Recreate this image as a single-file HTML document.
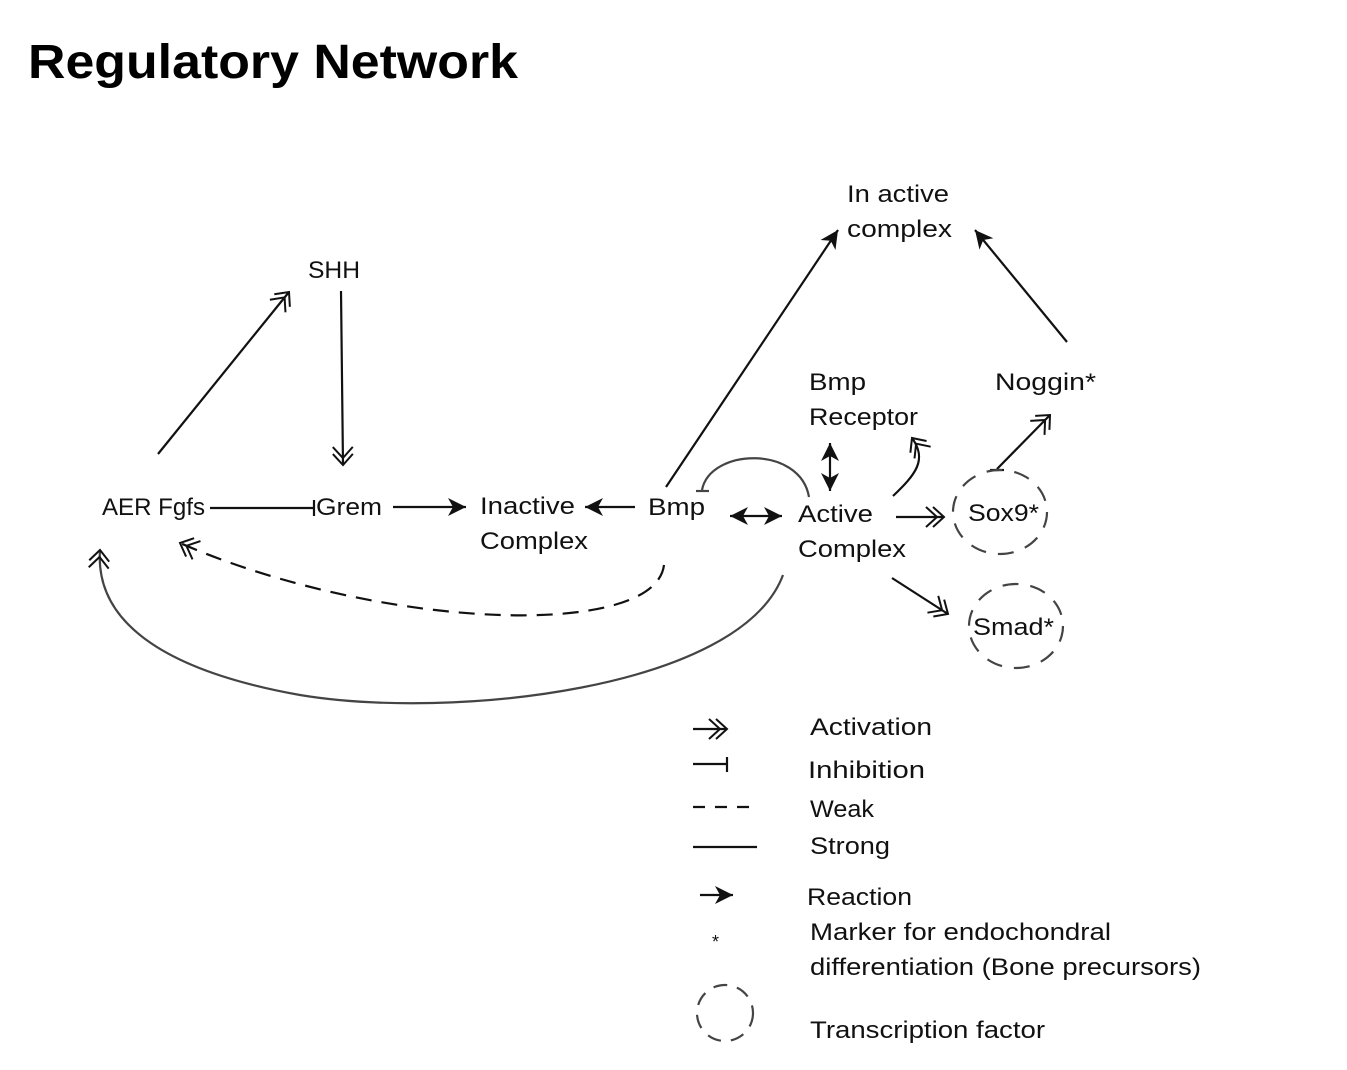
<!DOCTYPE html>
<html><head><meta charset="utf-8"><style>
html,body{margin:0;padding:0;background:#fff;width:1347px;height:1070px;overflow:hidden}
svg text{font-family:"Liberation Sans",sans-serif;font-size:24px;fill:#111}
</style></head><body>
<svg width="1347" height="1070" viewBox="0 0 1347 1070" xmlns="http://www.w3.org/2000/svg">
<defs>
<marker id="act" markerUnits="userSpaceOnUse" viewBox="-14 -12 28 24" refX="10" refY="0" markerWidth="28" markerHeight="24" orient="auto">
<path d="M-1,-10 L10,0 L-1,10 M-8,-10 L3,0 L-8,10" fill="none" stroke="#111" stroke-width="2"/>
</marker>
<marker id="rx" markerUnits="userSpaceOnUse" viewBox="-2 -10 24 20" refX="18" refY="0" markerWidth="24" markerHeight="20" orient="auto">
<path d="M0,-9 L18,0 L0,9 L5,0 Z" fill="#111"/>
</marker>
<marker id="rxs" markerUnits="userSpaceOnUse" viewBox="-2 -10 24 20" refX="0" refY="0" markerWidth="24" markerHeight="20" orient="auto">
<path d="M18,-9 L0,0 L18,9 L13,0 Z" fill="#111"/>
</marker>
</defs>
<text x="28" y="78" textLength="490" lengthAdjust="spacingAndGlyphs" style="font-size:48px;font-weight:bold;fill:#000">Regulatory  Network</text>

<g fill="none" stroke="#111" stroke-width="2.2">
<line x1="158" y1="454" x2="289" y2="292" marker-end="url(#act)"/>
<line x1="341" y1="291" x2="343" y2="465" marker-end="url(#act)"/>
<line x1="210" y1="508" x2="314" y2="508"/><line x1="314" y1="500" x2="314" y2="516"/>
<line x1="393" y1="507" x2="466" y2="507" marker-end="url(#rx)"/>
<line x1="635" y1="507" x2="585" y2="507" marker-end="url(#rx)"/>
<line x1="666" y1="487" x2="838" y2="230" marker-end="url(#rx)"/>
<line x1="1067" y1="342" x2="975" y2="230" marker-end="url(#rx)"/>
<line x1="730" y1="516" x2="782" y2="516" marker-start="url(#rxs)" marker-end="url(#rx)"/>
<line x1="830" y1="443" x2="830" y2="491" marker-start="url(#rxs)" marker-end="url(#rx)"/>
<path d="M809,497 C800,445 710,448 702,490" stroke="#444"/><line x1="696" y1="491" x2="709" y2="491" stroke="#444"/>
<path d="M893,496 C915,475 928,460 912,438" marker-end="url(#act)"/>
<line x1="896" y1="517" x2="944" y2="517" marker-end="url(#act)"/>
<line x1="892" y1="578" x2="948" y2="614" marker-end="url(#act)"/>
<line x1="997" y1="469" x2="1050" y2="415" marker-end="url(#act)"/><line x1="990" y1="470" x2="1004" y2="470"/>
<path d="M664,565 C655,640 380,630 180,543" stroke-dasharray="16,10" marker-end="url(#act)"/>
<path d="M783,575 C740,690 450,720 300,695 C160,670 95,620 100,550" stroke="#444" marker-end="url(#act)"/>
<ellipse cx="1000" cy="512" rx="47" ry="42" stroke="#444" stroke-dasharray="16,12"/>
<ellipse cx="1016" cy="626" rx="47" ry="42" stroke="#444" stroke-dasharray="16,12"/>
<line x1="693" y1="729" x2="727" y2="729" marker-end="url(#act)"/>
<line x1="693" y1="764" x2="727" y2="764"/><line x1="727" y1="757" x2="727" y2="772"/>
<line x1="693" y1="807" x2="757" y2="807" stroke-dasharray="12,10"/>
<line x1="693" y1="847" x2="757" y2="847"/>
<line x1="700" y1="895" x2="733" y2="895" marker-end="url(#rx)"/>
<circle cx="725" cy="1013" r="28" stroke="#444" stroke-dasharray="14,10"/>
</g>

<text x="308" y="278" textLength="52" lengthAdjust="spacingAndGlyphs">SHH</text>
<text x="102" y="515" textLength="103" lengthAdjust="spacingAndGlyphs">AER Fgfs</text>
<text x="316" y="515" textLength="66" lengthAdjust="spacingAndGlyphs">Grem</text>
<text x="480" y="514" textLength="95" lengthAdjust="spacingAndGlyphs">Inactive</text><text x="480" y="549" textLength="108" lengthAdjust="spacingAndGlyphs">Complex</text>
<text x="648" y="515" textLength="57" lengthAdjust="spacingAndGlyphs">Bmp</text>
<text x="798" y="522" textLength="75" lengthAdjust="spacingAndGlyphs">Active</text><text x="798" y="557" textLength="108" lengthAdjust="spacingAndGlyphs">Complex</text>
<text x="809" y="390" textLength="57" lengthAdjust="spacingAndGlyphs">Bmp</text><text x="809" y="425" textLength="109" lengthAdjust="spacingAndGlyphs">Receptor</text>
<text x="995" y="390" textLength="101" lengthAdjust="spacingAndGlyphs">Noggin*</text>
<text x="847" y="202" textLength="102" lengthAdjust="spacingAndGlyphs">In active</text><text x="847" y="237" textLength="105" lengthAdjust="spacingAndGlyphs">complex</text>
<text x="968" y="521" textLength="71" lengthAdjust="spacingAndGlyphs">Sox9*</text>
<text x="973" y="635" textLength="81" lengthAdjust="spacingAndGlyphs">Smad*</text>
<text x="810" y="735" textLength="122" lengthAdjust="spacingAndGlyphs">Activation</text>
<text x="808" y="778" textLength="117" lengthAdjust="spacingAndGlyphs">Inhibition</text>
<text x="810" y="817" textLength="64" lengthAdjust="spacingAndGlyphs">Weak</text>
<text x="810" y="854" textLength="80" lengthAdjust="spacingAndGlyphs">Strong</text>
<text x="807" y="905" textLength="105" lengthAdjust="spacingAndGlyphs">Reaction</text>
<text x="712" y="948" style="font-size:18px">*</text>
<text x="810" y="940" textLength="301" lengthAdjust="spacingAndGlyphs">Marker for endochondral</text>
<text x="810" y="975" textLength="391" lengthAdjust="spacingAndGlyphs">differentiation (Bone precursors)</text>
<text x="810" y="1038" textLength="235" lengthAdjust="spacingAndGlyphs">Transcription factor</text>
</svg>
</body></html>
